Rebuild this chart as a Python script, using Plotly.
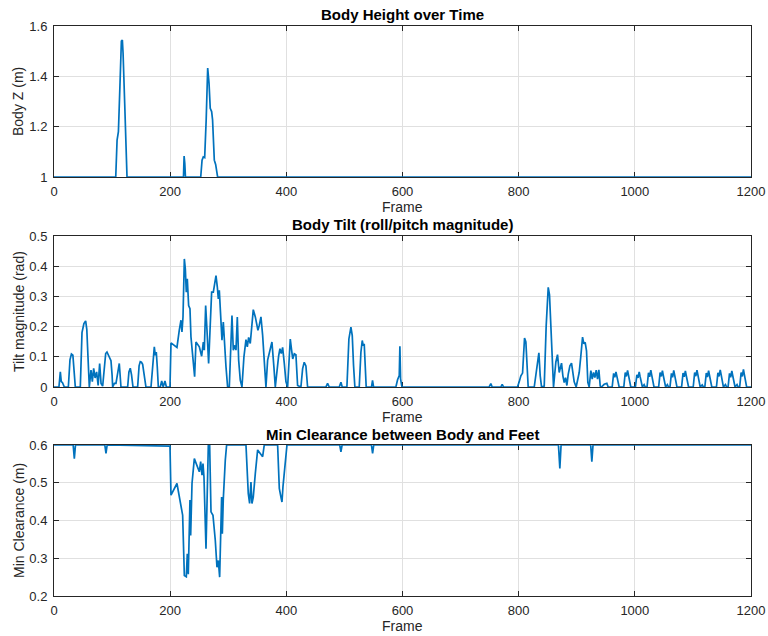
import plotly.graph_objects as go

# ---------------- data ----------------
height_frames = [0, 106.3, 108.6, 110.9, 113.5, 116.0, 117.7, 118.9, 121.7, 123.4, 125.7,
                 222.9, 224.0, 225.2, 226.3,
                 252.6, 254.9, 257.0, 259.4, 262.0, 264.6, 266.9, 269.0, 271.4, 273.0,
                 276.0, 278.3, 281.7, 1200]
height_vals = [1.0, 1.0, 1.147, 1.18, 1.36, 1.54, 1.544, 1.493, 1.293, 1.133, 1.0,
               1.0, 1.083, 1.053, 1.0,
               1.0, 1.067, 1.08, 1.077, 1.227, 1.433, 1.373, 1.273, 1.26, 1.227,
               1.067, 1.05, 1.0, 1.0]

tilt_frames = [
    0, 8.5, 10.9, 12.5, 14.5, 17.8, 24.7, 27.5, 30.0, 32.5, 36.7,
    45.3, 48.2, 51.5, 54.5, 56.5, 58.5, 60.8,
    63.7, 66.0, 68.3, 70.8, 73.4, 76.0, 78.6, 81.0, 83.8,
    86.6, 89.0, 91.2, 95.0, 98.1, 100.0, 101.0, 104.0, 106.7, 110.0, 112.4, 115.3,
    126.8, 129.0, 131.3, 133.5, 136.0,
    144.0, 146.5, 148.5, 150.5, 152.6, 155.5, 158.3,
    167.0, 169.9, 172.7, 174.4, 176.1, 177.8, 179.6,
    183.0, 185.4, 188.0, 191.0, 193.5, 199.7,
    201.4, 207.1, 211.7, 215.7, 218.6, 220.3, 222.1, 224.4, 226.1, 227.8, 229.5,
    231.8, 234.1, 235.8, 238.7, 242.1, 244.4, 250.2, 254.2, 257.1, 258.8, 261.1,
    263.4, 266.2, 269.1, 271.4, 274.3, 277.1, 278.9, 281.2, 282.9, 284.6, 286.9,
    289.2, 291.5, 293.8, 296.1, 298.9, 301.8,
    306.4, 308.7, 311.6, 313.3, 315.6, 317.9, 320.7, 323.6,
    327.0, 330.5, 332.8, 335.1, 337.9, 343.1, 346.6, 351.1, 353.4, 356.3, 359.2,
    362.0, 364.9, 367.8, 370.6, 375.2, 378.7, 381.0,
    386.7, 389.0, 391.3, 393.6, 396.5, 399.3, 402.2,
    406.8, 408.8, 411.0, 413.7, 416.5, 419.4, 425.1, 428.0, 430.8, 433.7, 436.6,
    468.1, 471.0, 473.9, 491.1, 494.0, 496.2,
    504.3, 507.7, 511.2, 513.5, 515.7, 518.0,
    525.5, 528.4, 530.7, 532.4, 534.1, 535.8, 537.5,
    546.7, 548.4, 550.2,
    588.6, 591.5, 594.4, 595.5, 596.7, 599.0,
    749.2, 752.1, 754.4, 769.3, 771.6, 773.9,
    798.0, 800.9, 803.8, 806.7, 808.4, 810.1, 812.4, 814.1, 816.4,
    826.8, 831.3, 834.8, 837.1, 839.4,
    844.0, 847.4, 850.9, 853.1, 855.4, 857.7, 860.0,
    864.0, 866.9, 869.8, 871.5, 873.8, 876.1, 878.4, 880.7, 883.0, 885.3, 888.2,
    891.0, 893.3, 895.6, 899.0,
    904.2, 907.1, 910.0, 912.2, 914.5, 916.8, 919.1, 921.4,
    924.3, 926.6, 928.9, 931.2, 933.5, 935.8, 938.1, 940.4, 942.6,
    947.2, 951.8, 954.1,
    961.0, 963.5, 965.5, 967.5, 969.0, 971.0, 973.0,
    981.0, 983.5, 985.5, 987.5, 989.0, 991.0, 993.0,
    1001.0, 1003.5, 1005.5, 1007.5, 1009.0, 1011.0, 1013.0, 1016.0, 1018.0,
    1021.0, 1023.5, 1025.5, 1027.5, 1029.0, 1031.0, 1033.0,
    1041.0, 1043.5, 1045.5, 1047.5, 1049.0, 1051.0, 1053.0, 1056.0, 1058.0,
    1060.5, 1063.0, 1065.0, 1067.0, 1068.5, 1070.5, 1072.5,
    1080.5, 1083.0, 1085.0, 1087.0, 1088.5, 1090.5, 1092.5,
    1100.5, 1103.0, 1105.0, 1107.0, 1108.5, 1110.5, 1112.5, 1116.0, 1118.0,
    1120.5, 1123.0, 1125.0, 1127.0, 1128.5, 1130.5, 1132.5,
    1140.5, 1143.0, 1145.0, 1147.0, 1148.5, 1150.5, 1152.5, 1156.0, 1158.0,
    1160.5, 1163.0, 1165.0, 1167.0, 1168.5, 1170.5, 1172.5, 1176.0, 1178.0,
    1180.5, 1183.0, 1185.0, 1187.0, 1188.5, 1190.5, 1192.5, 1200.0,
]
tilt_vals = [
    0.0, 0.0, 0.05, 0.018, 0.015, 0.0, 0.0, 0.09, 0.109, 0.105, 0.0,
    0.0, 0.18, 0.21, 0.219, 0.19, 0.1, 0.0,
    0.056, 0.018, 0.062, 0.03, 0.05, 0.005, 0.078, 0.012, 0.003,
    0.07, 0.111, 0.116, 0.1, 0.087, 0.04, 0.0, 0.012, 0.012, 0.05, 0.078, 0.0,
    0.0, 0.05, 0.062, 0.04, 0.0,
    0.0, 0.07, 0.084, 0.082, 0.075, 0.04, 0.0,
    0.0, 0.067, 0.133, 0.105, 0.116, 0.067, 0.0,
    0.0, 0.02, 0.0, 0.02, 0.0, 0.0,
    0.146, 0.138, 0.131, 0.188, 0.221, 0.182, 0.232, 0.424, 0.391, 0.314, 0.358,
    0.27, 0.259, 0.166, 0.111, 0.034, 0.149, 0.133, 0.102, 0.149, 0.122, 0.27,
    0.188, 0.078, 0.21, 0.314, 0.314, 0.347, 0.369, 0.331, 0.292, 0.32, 0.221,
    0.155, 0.215, 0.122, 0.067, 0.0, 0.0,
    0.237, 0.122, 0.138, 0.122, 0.232, 0.089, 0.023, 0.0,
    0.1, 0.157, 0.133, 0.164, 0.144, 0.256, 0.232, 0.188, 0.204, 0.232, 0.171,
    0.078, 0.0, 0.089, 0.116, 0.149, 0.064, 0.0,
    0.102, 0.127, 0.111, 0.131, 0.078, 0.018, 0.0,
    0.159, 0.126, 0.093, 0.11, 0.107, 0.005, 0.0, 0.06, 0.082, 0.07, 0.0,
    0.0, 0.012, 0.0, 0.0, 0.016, 0.0,
    0.0, 0.159, 0.198, 0.17, 0.071, 0.0,
    0.0, 0.115, 0.154, 0.137, 0.143, 0.071, 0.0,
    0.0, 0.022, 0.0,
    0.0, 0.024, 0.038, 0.135, 0.027, 0.0,
    0.0, 0.011, 0.0, 0.0, 0.009, 0.0,
    0.0, 0.017, 0.037, 0.046, 0.093, 0.162, 0.149, 0.093, 0.0,
    0.0, 0.059, 0.113, 0.037, 0.0,
    0.003, 0.204, 0.33, 0.305, 0.204, 0.07, 0.0,
    0.082, 0.107, 0.048, 0.059, 0.079, 0.037, 0.015, 0.031, 0.005, 0.042, 0.07,
    0.079, 0.037, 0.017, 0.0,
    0.048, 0.104, 0.165, 0.143, 0.148, 0.12, 0.015, 0.0,
    0.054, 0.026, 0.048, 0.031, 0.056, 0.026, 0.057, 0.003, 0.0,
    0.009, 0.012, 0.0,
    0.0, 0.045, 0.032, 0.05, 0.038, 0.012, 0.0,
    0.0, 0.048, 0.035, 0.055, 0.04, 0.015, 0.0,
    0.0, 0.04, 0.03, 0.05, 0.035, 0.01, 0.0, 0.008, 0.0,
    0.0, 0.047, 0.034, 0.056, 0.04, 0.014, 0.0,
    0.0, 0.048, 0.035, 0.054, 0.038, 0.012, 0.0, 0.008, 0.0,
    0.0, 0.045, 0.032, 0.055, 0.04, 0.013, 0.0,
    0.0, 0.046, 0.034, 0.053, 0.038, 0.012, 0.0,
    0.0, 0.048, 0.036, 0.056, 0.041, 0.014, 0.0, 0.007, 0.0,
    0.0, 0.046, 0.033, 0.054, 0.039, 0.012, 0.0,
    0.0, 0.047, 0.035, 0.057, 0.042, 0.013, 0.0, 0.008, 0.0,
    0.0, 0.045, 0.032, 0.053, 0.038, 0.012, 0.0, 0.008, 0.0,
    0.0, 0.048, 0.035, 0.058, 0.042, 0.014, 0.0, 0.0,
]

clear_frames = [0, 33.0, 35.0, 37.0, 87.5, 89.5, 91.5, 184.0, 192.0, 199.7,
                201.4, 211.7, 221.5, 224.4, 227.8, 229.5, 231.2, 233.0, 234.1, 235.3,
                237.6, 241.6, 250.2, 252.5, 254.8, 256.5, 258.2, 261.7, 263.4, 265.7,
                268.0, 270.3, 273.7, 277.7, 280.6, 282.9, 285.2, 287.5, 288.6, 289.8,
                291.5, 294.9, 297.2,
                330.5, 334.5, 336.8, 339.1, 340.8, 343.1, 346.6, 350.6, 359.2, 362.0,
                385.0, 387.9, 390.7, 392.5, 394.2, 396.5, 397.6, 399.3, 401.1,
                492.0, 494.0, 496.0, 546.5, 548.5, 550.5,
                868.5, 870.9, 873.0, 924.0, 926.0, 928.0, 1200]
clear_vals = [0.6, 0.6, 0.564, 0.6, 0.6, 0.578, 0.6, 0.599, 0.597, 0.597,
              0.467, 0.498, 0.414, 0.254, 0.251, 0.312, 0.258, 0.391, 0.454, 0.36,
              0.498, 0.564, 0.529, 0.556, 0.52, 0.551, 0.516, 0.325, 0.436, 0.6,
              0.6, 0.423, 0.414, 0.347, 0.276, 0.294, 0.25, 0.356, 0.462, 0.365,
              0.458, 0.56, 0.6,
              0.6, 0.471, 0.445, 0.502, 0.445, 0.462, 0.525, 0.587, 0.569, 0.6,
              0.6, 0.485, 0.462, 0.449, 0.489, 0.525, 0.556, 0.587, 0.6,
              0.6, 0.582, 0.6, 0.6, 0.578, 0.6,
              0.6, 0.538, 0.6, 0.6, 0.556, 0.6, 0.6]

x_ticks = [0, 200, 400, 600, 800, 1000, 1200]
height_ticks = [1, 1.2, 1.4, 1.6]
tilt_ticks = [0, 0.1, 0.2, 0.3, 0.4, 0.5]
clear_ticks = [0.2, 0.3, 0.4, 0.5, 0.6]

titles = ["Body Height over Time", "Body Tilt (roll/pitch magnitude)",
          "Min Clearance between Body and Feet"]
y_titles = ["Body Z (m)", "Tilt magnitude (rad)", "Min Clearance (m)"]

# ---------------- figure ----------------
W, H = 768, 636
# plot-area edges in window pixels
L, R, T, B = 53.5, 751, 26, 596
LINE = "#0072BD"
AX = "#262626"
GRID = "#e0e0e0"
FONT = "Liberation Sans, Arial, sans-serif"

# pixel boxes of the three panels (top, bottom)
panels = [(26, 177), (236, 387), (445, 596)]
title_y = [15, 224.5, 434]

def py(p):
    return (B - p) / (B - T)

def px(p):
    return (p - L) / (R - L)

fig = go.Figure()
series = [(height_frames, height_vals), (tilt_frames, tilt_vals), (clear_frames, clear_vals)]
yranges = [[1, 1.6], [0, 0.5], [0.2, 0.6]]
yticks = [height_ticks, tilt_ticks, clear_ticks]

for i, (xs, ys) in enumerate(series):
    n = "" if i == 0 else str(i + 1)
    fig.add_trace(go.Scatter(x=xs, y=ys, mode="lines",
                             line=dict(color=LINE, width=1.7),
                             xaxis="x" + n, yaxis="y" + n,
                             hoverinfo="skip", showlegend=False))
    top, bot = panels[i]
    common = dict(showgrid=True, gridcolor=GRID, gridwidth=1,
                  showline=True, linecolor=AX, linewidth=1, mirror="allticks",
                  ticks="inside", ticklen=5, tickcolor=AX, zeroline=False,
                  tickfont=dict(family=FONT, size=13, color=AX),
                  layer="below traces", automargin=False,
                  ticklabeloverflow="allow")
    fig.update_layout(**{
        "xaxis" + n: dict(domain=[0, 1], range=[0, 1200], tickvals=x_ticks,
                          anchor="y" + n, ticklabelstandoff=2, **common),
        "yaxis" + n: dict(domain=[py(bot), py(top)], range=yranges[i],
                          tickvals=yticks[i], anchor="x" + n,
                          ticklabelstandoff=3, **common),
    })
    fig.add_annotation(text="<b>" + titles[i] + "</b>", xref="paper", yref="paper",
                       x=px(402.5), y=py(title_y[i]), xanchor="center", yanchor="middle",
                       showarrow=False, font=dict(family=FONT, size=15, color="black"))
    fig.add_annotation(text=y_titles[i], xref="paper", yref="paper",
                       x=px(18), y=py((top + bot) / 2), xanchor="center", yanchor="middle",
                       textangle=-90, showarrow=False,
                       font=dict(family=FONT, size=14, color=AX))
    fig.add_annotation(text="Frame", xref="paper", yref="paper",
                       x=px(402.5), y=py(bot + 30), xanchor="center", yanchor="middle",
                       showarrow=False, font=dict(family=FONT, size=14, color=AX))

fig.update_layout(width=W, height=H, margin=dict(l=L, r=W - R, t=T, b=H - B),
                  paper_bgcolor="white", plot_bgcolor="white")

# remove the browser's default 8px page margin so the figure fills the window exactly
fig.write_html("out.html", config={"displayModeBar": False},
               post_script="document.body.style.margin='0';document.body.style.overflow='hidden';")
